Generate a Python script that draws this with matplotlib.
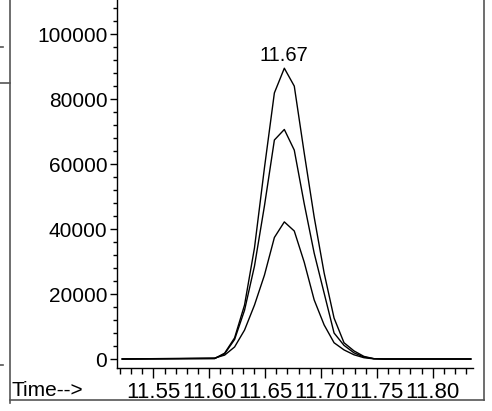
import matplotlib
matplotlib.use('Agg')
import matplotlib.pyplot as plt
from matplotlib.lines import Line2D
from matplotlib.ticker import MultipleLocator

# retention time axis (min) and the three ion traces (abundance)
times = [11.5222, 11.6049, 11.6138, 11.6227, 11.6316, 11.6405, 11.6494, 11.6583,
         11.6672, 11.6761, 11.6850, 11.6939, 11.7028, 11.7117, 11.7206, 11.7295,
         11.7384, 11.7473, 11.7562, 11.8340]
trace_a = [0, 150, 1800, 6500, 16600, 34200, 58800, 81900,
           89500, 84000, 63400, 43700, 26500, 12600, 5000, 2500,
           800, 100, 0, 0]
trace_b = [0, 150, 1600, 6000, 15000, 28600, 47100, 67400,
           70650, 64300, 47800, 32600, 20300, 8000, 4200, 1900,
           600, 100, 0, 0]
trace_c = [0, 300, 1200, 3700, 8900, 16600, 25800, 37400,
           42200, 39400, 29800, 18200, 10500, 5000, 2800, 1300,
           400, 50, 0, 0]
peak_time = 11.6672
peak_value = 89500

y_ticks = [0, 20000, 40000, 60000, 80000, 100000]
x_ticks = [11.55, 11.60, 11.65, 11.70, 11.75, 11.80]

plt.rcParams['font.family'] = ['Liberation Sans', 'DejaVu Sans']

W, H = 492, 411
fig = plt.figure(figsize=(W / 100, H / 100), dpi=100)
ax = fig.add_axes([117 / W, 43 / H, 356 / W, 368 / H])

for tr in (trace_a, trace_b, trace_c):
    ax.plot(times, tr, color='black', lw=1.0)

ax.annotate(f'{peak_time:.2f}', xy=(peak_time, peak_value), xytext=(0, 5.5),
            textcoords='offset points', ha='center', va='baseline', fontsize=14.5)

ax.set_xlim(11.5175, 11.8360)
ax.set_ylim(-2770, 110500)
ax.set_xticks(x_ticks)
ax.set_xticklabels([f'{v:.2f}' for v in x_ticks])
ax.set_yticks(y_ticks)
ax.xaxis.set_minor_locator(MultipleLocator(0.01))
ax.yaxis.set_minor_locator(MultipleLocator(4000))

for s in ('top', 'right'):
    ax.spines[s].set_visible(False)
for s in ('left', 'bottom'):
    ax.spines[s].set_linewidth(1.0)

ax.tick_params(axis='x', which='major', direction='out', length=7, width=1,
               labelsize=16, pad=3)
ax.tick_params(axis='x', which='minor', direction='out', length=4, width=1)
ax.tick_params(axis='y', which='major', direction='out', length=5, width=1,
               labelsize=15, pad=2)
ax.tick_params(axis='y', which='minor', direction='out', length=3, width=1)

fig.text(12 / W, 1 - 390 / H, 'Time-->', ha='left', va='center', fontsize=15)


def frame_line(x1, y1, x2, y2, **kw):
    fig.add_artist(Line2D([x1 / W, x2 / W], [1 - y1 / H, 1 - y2 / H],
                          transform=fig.transFigure, color='#555555', lw=1.2, **kw))


# outer box of the printed panel
frame_line(10, 0, 10, 403)
frame_line(10, 400, 484, 400)
frame_line(484, 0, 484, 400)
# bits of the neighbouring panel
frame_line(0, 83, 10, 83)
frame_line(0, 47, 3, 47)
frame_line(0, 365, 3, 365)

fig.savefig('out.png', dpi=100)
